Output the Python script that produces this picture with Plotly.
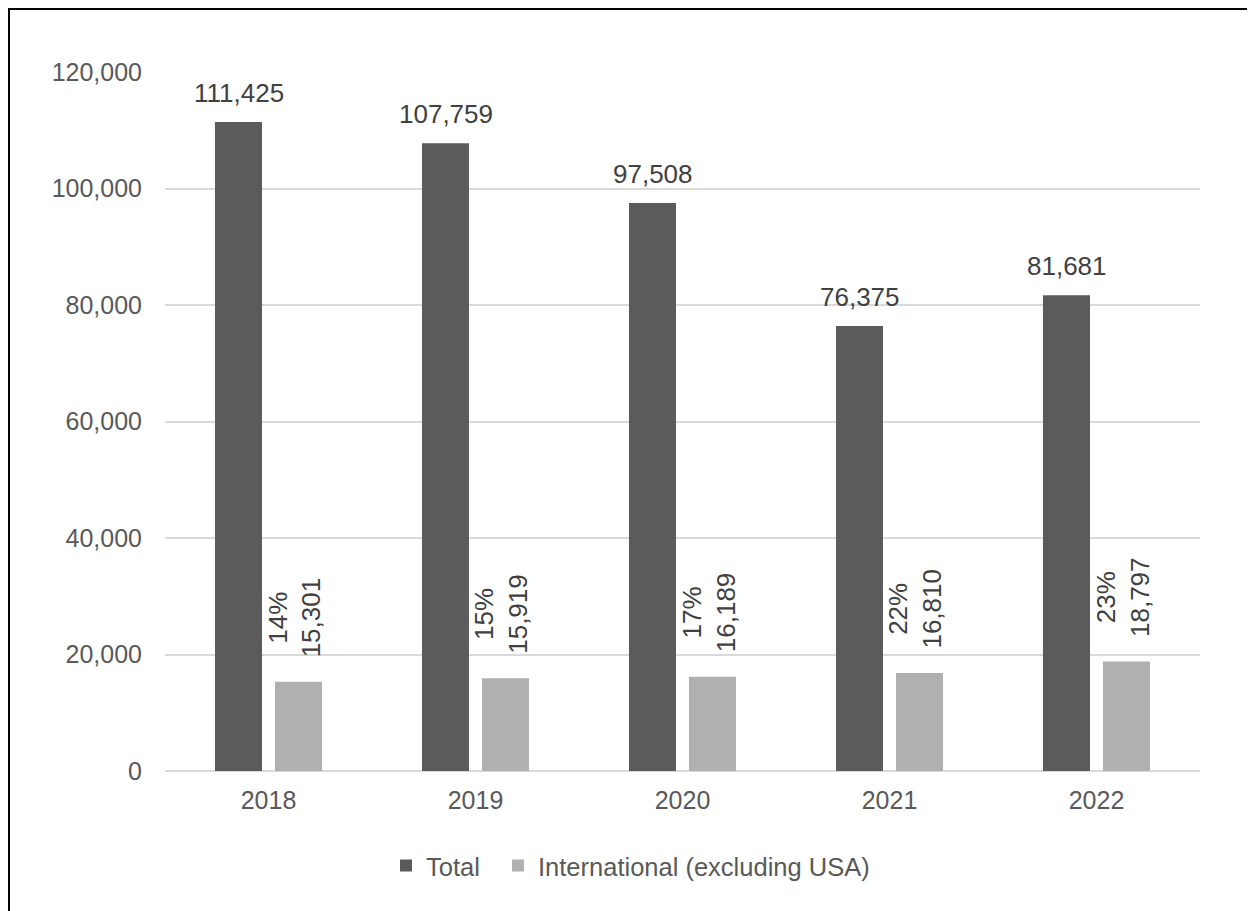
import plotly.graph_objects as go

years = ["2018", "2019", "2020", "2021", "2022"]
total = [111425, 107759, 97508, 76375, 81681]
international = [15301, 15919, 16189, 16810, 18797]
intl_share = ["14%", "15%", "17%", "22%", "23%"]
y_ticks = [0, 20000, 40000, 60000, 80000, 100000, 120000]

DARK = "#5b5b5b"
LIGHT = "#b0b0b0"
TXT = "#595959"
LBL = "#404040"
FONT = "Liberation Sans, Arial, sans-serif"

# page body has an 8px margin; the figure is sized to fit the window
OFF = 8
W, H = 1255 - OFF, 911 - OFF
L, R, T, B = 165 - OFF, 55, 72 - OFF, 140
pw, ph = W - L - R, H - T - B


def px_x(p):
    """screen x pixel -> paper fraction"""
    return (p - OFF - L) / pw


def px_y(p):
    """screen y pixel -> paper fraction"""
    return (H - B - (p - OFF)) / ph


fig = go.Figure()
fig.add_trace(go.Bar(name="Total", x=years, y=total, marker_color=DARK,
                     marker_line_width=0, legendwidth=67))
fig.add_trace(go.Bar(name="International (excluding USA)", x=years, y=international,
                     marker_color=LIGHT, marker_line_width=0))

annotations = []
for i, t in enumerate(total):
    annotations.append(dict(x=i, y=t, xref="x", yref="y", text=f"{t:,}", showarrow=False,
                            xanchor="center", yanchor="bottom", xshift=-30, yshift=12,
                            font=dict(family=FONT, size=26, color=LBL)))
for i, (v, p) in enumerate(zip(international, intl_share)):
    annotations.append(dict(x=i, y=v, xref="x", yref="y", text=f"{p}<br>{v:,}", showarrow=False,
                            textangle=-90, xanchor="center", yanchor="bottom", xshift=26, yshift=22,
                            font=dict(family=FONT, size=26, color=LBL)))

fig.update_layout(
    width=W, height=H,
    margin=dict(l=L, r=R, t=T, b=B),
    paper_bgcolor="white", plot_bgcolor="white",
    barmode="group", bargap=0.42, bargroupgap=0.217,
    font=dict(family=FONT, size=25, color=TXT),
    showlegend=True,
    legend=dict(orientation="h", x=px_x(386), xanchor="left", y=px_y(866), yanchor="middle",
                font=dict(family=FONT, size=25.5, color=TXT), itemwidth=30,
                bgcolor="rgba(0,0,0,0)"),
    annotations=annotations,
    shapes=[dict(type="rect", xref="paper", yref="paper",
                 x0=px_x(9), x1=px_x(1275), y0=px_y(930), y1=px_y(9),
                 line=dict(color="black", width=2), fillcolor="rgba(0,0,0,0)", layer="above")],
)
fig.update_xaxes(type="category", range=[-0.5, len(years) - 0.5], autorange=False,
                 showgrid=False, showline=False, zeroline=False, ticks="",
                 ticklabelstandoff=12, tickfont=dict(family=FONT, size=25, color=TXT))
fig.update_yaxes(range=[0, 120000], autorange=False, tickvals=y_ticks, tickformat=",",
                 showgrid=True, gridcolor="#d9d9d9", gridwidth=1.5, zeroline=True,
                 zerolinecolor="#d9d9d9", zerolinewidth=1.5, showline=False, ticks="",
                 ticklabelstandoff=22, tickfont=dict(family=FONT, size=25, color=TXT))

fig.write_html("out.html")
